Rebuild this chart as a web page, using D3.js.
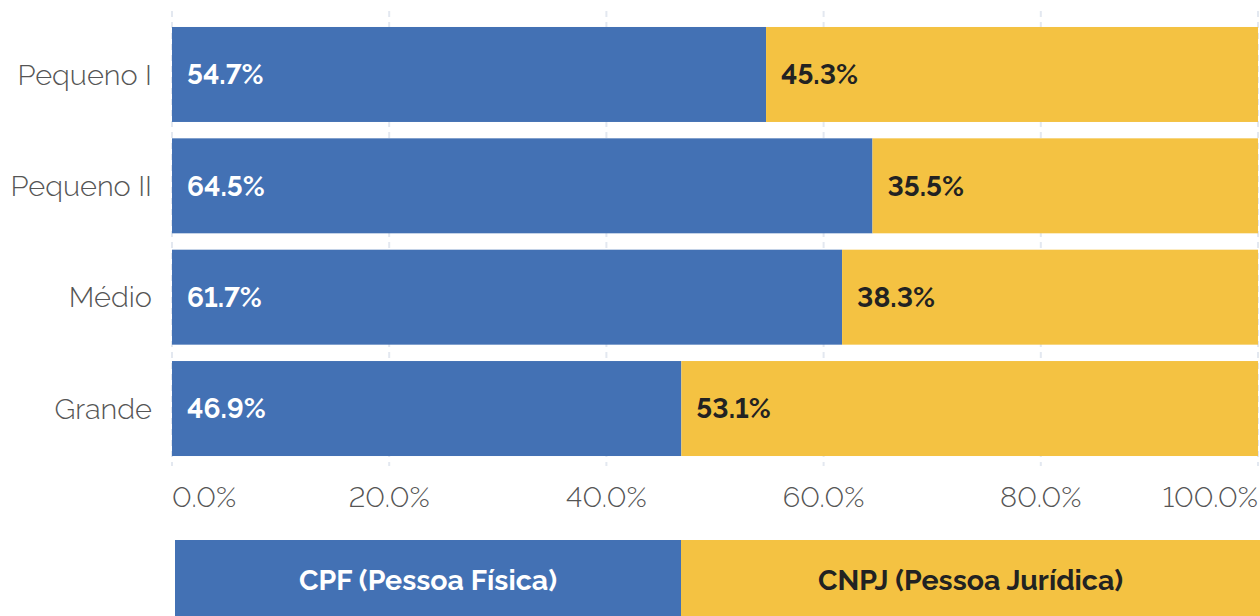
<!DOCTYPE html>
<html>
<head>
<meta charset="utf-8">
<script src="https://cdn.jsdelivr.net/npm/d3@7"></script>
<style>
  body { margin: 0; background: #fff; }
  svg text { font-family: Raleway, Lato, "Open Sans", sans-serif; font-variant-numeric: lining-nums; font-feature-settings: "lnum" 1; }
</style>
</head>
<body>
<div id="chart"></div>
<script>
// data
var categories = ["Pequeno I", "Pequeno II", "Médio", "Grande"];
var cpfValues = [54.7, 64.5, 61.7, 46.9];
var cnpjValues = [45.3, 35.5, 38.3, 53.1];
var seriesNames = ["CPF (Pessoa Física)", "CNPJ (Pessoa Jurídica)"];
var tickValues = [0, 20, 40, 60, 80, 100];

var blue = "#4371b4";
var yellow = "#f4c242";

var svgWidth = 1260, svgHeight = 616;

var svg = d3.select("#chart").append("svg")
    .attr("width", svgWidth)
    .attr("height", svgHeight);

// scales
var x = d3.scaleLinear().domain([0, 100]).range([172, 1258]);
var y = d3.scaleBand().domain(categories).range([18.8, 464.2])
    .paddingInner(0.147).paddingOuter(0.0735);

// gridlines (dashed, behind bars)
svg.append("g").selectAll("line")
    .data(tickValues)
    .enter().append("line")
    .attr("x1", d => x(d)).attr("x2", d => x(d))
    .attr("y1", 11).attr("y2", 466)
    .attr("stroke", "#e3e8f0")
    .attr("stroke-width", 2)
    .attr("stroke-dasharray", "6,5");

var rows = categories.map((c, i) => ({cat: c, cpf: cpfValues[i], cnpj: cnpjValues[i]}));

// stacked bars
var rowG = svg.append("g").selectAll("g")
    .data(rows).enter().append("g");

rowG.append("rect")
    .attr("x", x(0))
    .attr("y", d => y(d.cat))
    .attr("width", d => x(d.cpf) - x(0))
    .attr("height", y.bandwidth())
    .attr("fill", blue);

rowG.append("rect")
    .attr("x", d => x(d.cpf))
    .attr("y", d => y(d.cat))
    .attr("width", d => x(d.cpf + d.cnpj) - x(d.cpf))
    .attr("height", y.bandwidth())
    .attr("fill", yellow);

// value labels
rowG.append("text")
    .attr("x", x(0) + 15)
    .attr("y", d => y(d.cat) + y.bandwidth() / 2)
    .attr("dy", "0.35em")
    .attr("fill", "#fff")
    .attr("font-size", 28)
    .attr("font-weight", 700)
    .text(d => d.cpf.toFixed(1) + "%");

rowG.append("text")
    .attr("x", d => x(d.cpf) + 15)
    .attr("y", d => y(d.cat) + y.bandwidth() / 2)
    .attr("dy", "0.35em")
    .attr("fill", "#222")
    .attr("font-size", 28)
    .attr("font-weight", 700)
    .text(d => d.cnpj.toFixed(1) + "%");

// category labels
svg.append("g").selectAll("text")
    .data(categories).enter().append("text")
    .attr("x", 152)
    .attr("y", d => y(d) + y.bandwidth() / 2)
    .attr("dy", "0.35em")
    .attr("text-anchor", "end")
    .attr("fill", "#555")
    .attr("font-size", 29)
    .attr("font-weight", 300)
    .text(d => d);

// x tick labels
svg.append("g").selectAll("text")
    .data(tickValues).enter().append("text")
    .attr("x", d => x(d))
    .attr("y", 497)
    .attr("dy", "0.35em")
    .attr("text-anchor", (d, i) => i === 0 ? "start" : (i === tickValues.length - 1 ? "end" : "middle"))
    .attr("fill", "#555")
    .attr("font-size", 29)
    .attr("font-weight", 300)
    .text(d => d.toFixed(1) + "%");

// legend
var legendItems = [
    {name: seriesNames[0], color: blue, text: "#fff", x0: 175, x1: 681},
    {name: seriesNames[1], color: yellow, text: "#222", x0: 681, x1: 1260}
];
var lg = svg.append("g").selectAll("g")
    .data(legendItems).enter().append("g");
lg.append("rect")
    .attr("x", d => d.x0).attr("y", 540)
    .attr("width", d => d.x1 - d.x0).attr("height", 76)
    .attr("fill", d => d.color);
lg.append("text")
    .attr("x", d => (d.x0 + d.x1) / 2)
    .attr("y", 580)
    .attr("dy", "0.35em")
    .attr("text-anchor", "middle")
    .attr("fill", d => d.text)
    .attr("font-size", 28.5)
    .attr("font-weight", 700)
    .text(d => d.name);
</script>
</body>
</html>
